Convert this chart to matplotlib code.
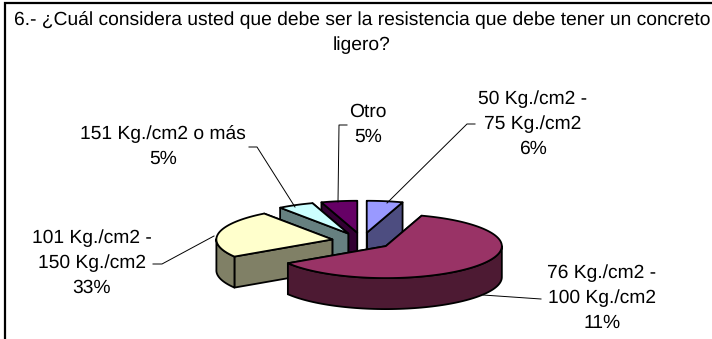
import numpy as np
import matplotlib
matplotlib.use('Agg')
import matplotlib.pyplot as plt
from matplotlib.patches import Polygon

plt.rcParams['font.family'] = ['Liberation Sans', 'DejaVu Sans']
plt.rcParams['text.hinting'] = 'none'

title = "6.- ¿Cuál considera usted que debe ser la resistencia que debe tener un concreto\nligero?"

# clockwise from 12 o'clock, shares as drawn in the picture
categories = ['50 Kg./cm2 -\n75 Kg./cm2', '76 Kg./cm2 -\n100 Kg./cm2',
              '101 Kg./cm2 -\n150 Kg./cm2', '151 Kg./cm2 o más', 'Otro']
drawn_shares = [5, 61, 24, 5, 5]
printed_pct = [6, 11, 33, 5, 5]

top_colors = ['#9999FF', '#993366', '#FFFFCC', '#CCFFFF', '#660066']
side_colors = ['#4D4D80', '#4D1A33', '#808066', '#668080', '#330033']

# label centre and leader line (pixels), same order as categories
label_pos = [(533, 124), (602, 298), (92, 263), (163, 146), (368, 124)]
leaders = [[(475, 124), (467, 124), (387, 203)],
           [(541, 299), (483, 295)],
           [(153, 264), (162, 264), (214, 236)],
           [(249, 147), (257, 147), (295, 207)],
           [(347, 125), (339, 125), (338, 202)]]

cx, cy = 362, 241
rx, ry = 116, 32
depth = 31
explode = 0.26

fig = plt.figure(figsize=(7.12, 3.39), dpi=100)
ax = fig.add_axes([0, 0, 1, 1])
ax.set_xlim(0, 712)
ax.set_ylim(339, 0)
ax.axis('off')

# chart frame, right and bottom sides are cut off in the original
ax.plot([5, 5, 712], [339, 3, 3], color='black', lw=1.6, solid_joinstyle='miter')

ax.text(362, 32.5, title, ha='center', va='center', fontsize=13.9, linespacing=1.55)


def rim(t):
    return rx * np.cos(t), -ry * np.sin(t)


# work out the angle range of each slice
edges = 90 - np.concatenate([[0], np.cumsum(drawn_shares)]) * 360 / sum(drawn_shares)
slices = []
for i in range(len(drawn_shares)):
    t1, t0 = np.radians(edges[i]), np.radians(edges[i + 1])
    mid = (t0 + t1) / 2
    ox = cx + explode * rx * np.cos(mid)
    oy = cy - explode * ry * np.sin(mid)
    slices.append((t0, t1, ox, oy))

# back slices first, the big one goes last
for i in [4, 0, 3, 2, 1]:
    t0, t1, ox, oy = slices[i]
    ts = np.linspace(t0, t1, 120)
    xs, ys = rim(ts)
    xs, ys = xs + ox, ys + oy
    kw = dict(edgecolor='black', lw=1.3, joinstyle='round')

    # cut faces
    for k in [0, -1]:
        ax.add_patch(Polygon([(ox, oy), (xs[k], ys[k]), (xs[k], ys[k] + depth), (ox, oy + depth)],
                             facecolor=side_colors[i], **kw))

    # outer wall, only the part facing the viewer
    front = np.sin(ts) < 0.02
    if front.any():
        wx, wy = xs[front], ys[front]
        wall = np.column_stack([np.r_[wx, wx[::-1]], np.r_[wy, wy[::-1] + depth]])
        ax.add_patch(Polygon(wall, facecolor=side_colors[i], **kw))

    ax.add_patch(Polygon(np.column_stack([np.r_[ox, xs], np.r_[oy, ys]]),
                         facecolor=top_colors[i], **kw))

for cat, pct, pos, line in zip(categories, printed_pct, label_pos, leaders):
    ax.text(pos[0], pos[1], f"{cat}\n{pct}%", ha='center', va='center', fontsize=13.9, linespacing=1.52)
    lx, ly = zip(*line)
    ax.plot(lx, ly, color='black', lw=0.7)

fig.savefig('out.png', dpi=100)
